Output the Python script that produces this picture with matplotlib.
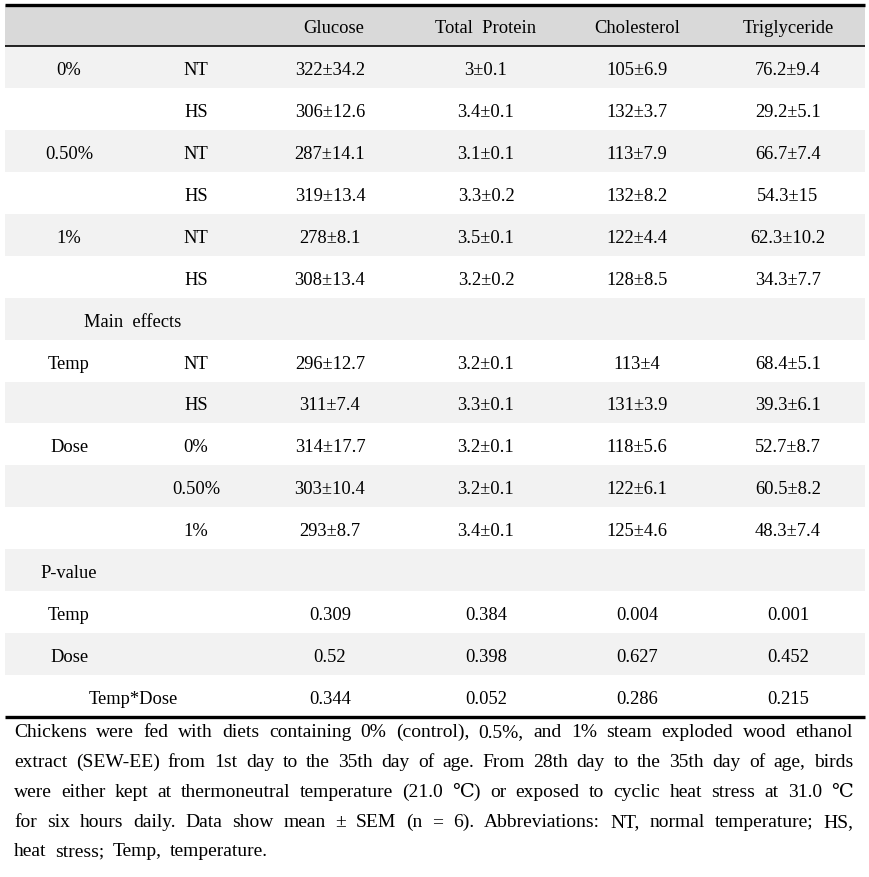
import matplotlib
matplotlib.use("Agg")
import matplotlib.pyplot as plt
from matplotlib.patches import Rectangle

columns = ["Glucose", "Total  Protein", "Cholesterol", "Triglyceride"]
group_labels = ["0%", "", "0.50%", "", "1%", "", "Main  effects", "Temp", "", "Dose", "", "",
                "P-value", "Temp", "Dose", "Temp*Dose"]
sub_labels = ["NT", "HS", "NT", "HS", "NT", "HS", "", "NT", "HS", "0%", "0.50%", "1%",
              "", "", "", ""]
glucose = ["322±34.2", "306±12.6", "287±14.1", "319±13.4", "278±8.1", "308±13.4", "",
           "296±12.7", "311±7.4", "314±17.7", "303±10.4", "293±8.7", "", "0.309", "0.52", "0.344"]
total_protein = ["3±0.1", "3.4±0.1", "3.1±0.1", "3.3±0.2", "3.5±0.1", "3.2±0.2", "",
                 "3.2±0.1", "3.3±0.1", "3.2±0.1", "3.2±0.1", "3.4±0.1", "", "0.384", "0.398", "0.052"]
cholesterol = ["105±6.9", "132±3.7", "113±7.9", "132±8.2", "122±4.4", "128±8.5", "",
               "113±4", "131±3.9", "118±5.6", "122±6.1", "125±4.6", "", "0.004", "0.627", "0.286"]
triglyceride = ["76.2±9.4", "29.2±5.1", "66.7±7.4", "54.3±15", "62.3±10.2", "34.3±7.7", "",
                "68.4±5.1", "39.3±6.1", "52.7±8.7", "60.5±8.2", "48.3±7.4", "", "0.001", "0.452", "0.215"]
footnote_lines = [
    "Chickens were fed with diets containing 0% (control), 0.5%, and 1% steam exploded wood ethanol",
    "extract (SEW-EE) from 1st day to the 35th day of age. From 28th day to the 35th day of age, birds",
    "were either kept at thermoneutral temperature (21.0 ℃) or exposed to cyclic heat stress at 31.0 ℃",
    "for six hours daily. Data show mean ± SEM (n = 6). Abbreviations: NT, normal temperature; HS,",
    "heat stress; Temp, temperature.",
]

W, H = 870, 877
fig = plt.figure(figsize=(W / 100, H / 100), dpi=100)
ax = fig.add_axes([0, 0, 1, 1])
ax.set_xlim(0, W)
ax.set_ylim(H, 0)
ax.axis("off")

FONT = ["Liberation Serif", "DejaVu Serif"]
FS = 13.3

x0, x1 = 5, 865
top, head_bot, bot = 5, 46, 717
nrows = len(group_labels)
rh = (bot - head_bot) / nrows

# backgrounds
ax.add_patch(Rectangle((x0, top), x1 - x0, head_bot - top, color="#d9d9d9", lw=0, zorder=0))
for i in range(nrows):
    if i % 2 == 0:
        ax.add_patch(Rectangle((x0, head_bot + i * rh), x1 - x0, rh, color="#f2f2f2", lw=0, zorder=0))

ax.plot([x0, x1], [top, top], color="black", lw=2.4, solid_capstyle="butt")
ax.plot([x0, x1], [head_bot, head_bot], color="black", lw=1.2, solid_capstyle="butt")
ax.plot([x0, x1], [bot, bot], color="black", lw=2.4, solid_capstyle="butt")

col_x = [334, 486, 637, 788]
for cx, name in zip(col_x, columns):
    ax.text(cx, 33, name, ha="center", va="baseline", fontsize=FS, family=FONT)

group_x = {"Main  effects": 133, "Temp*Dose": 133}
data_cols = [glucose, total_protein, cholesterol, triglyceride]
for i in range(nrows):
    yb = head_bot + (i + 0.5) * rh + 8
    g = group_labels[i]
    if g:
        ax.text(group_x.get(g, 69), yb, g, ha="center", va="baseline", fontsize=FS, family=FONT)
    s = sub_labels[i]
    if s:
        ax.text(196, yb, s, ha="center", va="baseline", fontsize=FS, family=FONT)
    for cx, col in zip(col_x, data_cols):
        if col[i]:
            ax.text(cx - (4 if cx == 334 else 0), yb, col[i], ha="center", va="baseline",
                    fontsize=FS, family=FONT)

# justified footnote
fig.canvas.draw()
renderer = fig.canvas.get_renderer()
left, right = 14, 853
line_y = [737, 767, 797, 827, 856]
FFS = 14
for li, (line, y) in enumerate(zip(footnote_lines, line_y)):
    words = line.split(" ")
    arts = [ax.text(0, y, w, ha="left", va="baseline", fontsize=FFS, family=FONT) for w in words]
    widths = [a.get_window_extent(renderer).width for a in arts]
    total = sum(widths)
    if li == len(footnote_lines) - 1:
        gap = 8.5
    else:
        gap = (right - left - total) / (len(words) - 1)
    x = left
    for a, w in zip(arts, widths):
        a.set_x(x)
        x += w + gap

fig.savefig("out.png", dpi=100)
